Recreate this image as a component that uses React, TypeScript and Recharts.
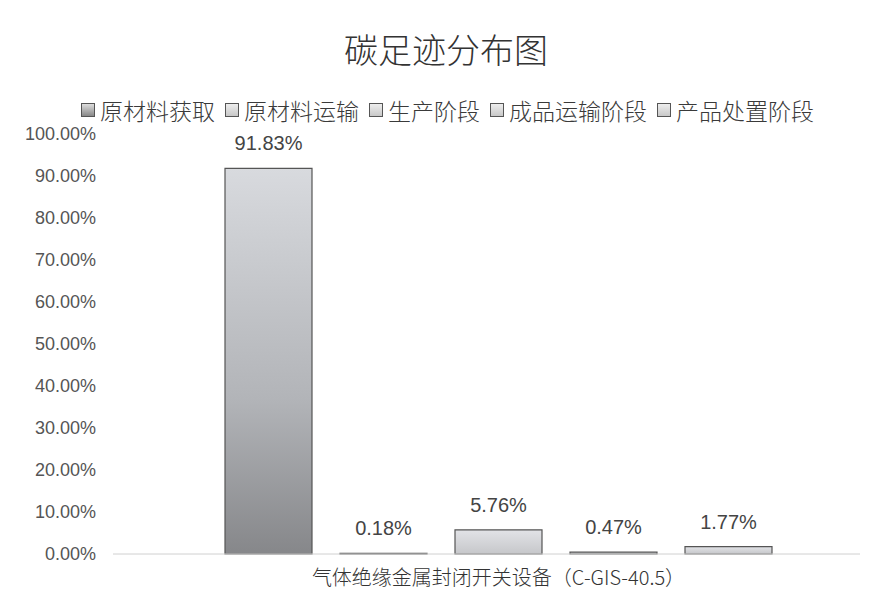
import React from 'react';
import { BarChart, Bar, XAxis, YAxis, LabelList } from 'recharts';

const categories = ['气体绝缘金属封闭开关设备（C-GIS-40.5）'];
const seriesNames = ['原材料获取', '原材料运输', '生产阶段', '成品运输阶段', '产品处置阶段'];
const seriesValues = [91.83, 0.18, 5.76, 0.47, 1.77];
const yTicks = [0, 10, 20, 30, 40, 50, 60, 70, 80, 90, 100];

const keys = ['s0', 's1', 's2', 's3', 's4'];
const data = categories.map((c) => {
  const row: any = { name: c };
  keys.forEach((k, i) => (row[k] = seriesValues[i]));
  return row;
});

const fmt = (v: number) => `${Number(v).toFixed(2)}%`;
const CJK = '"Noto Sans CJK SC", "Liberation Sans", sans-serif';
const NUM = '"Liberation Sans", Arial, sans-serif';

const fills = ['url(#g0)', 'url(#g1)', 'url(#g1)', 'url(#g1)', 'url(#g1)'];

function LegendContent() {
  return (
    <div
      style={{
        display: 'flex',
        justifyContent: 'center',
        alignItems: 'center',
        fontFamily: CJK,
        fontSize: 23,
        fontWeight: 300,
        color: '#3a3a3a',
        gap: 10,
        whiteSpace: 'nowrap',
      }}
    >
      {seriesNames.map((n, i) => (
        <div key={n} style={{ display: 'flex', alignItems: 'center' }}>
          <span
            style={{
              display: 'inline-block',
              width: 12,
              height: 12,
              border: '1px solid #555',
              background: i === 0 ? 'linear-gradient(#ddd, #888)' : 'linear-gradient(#eee, #c8c8c8)',
              marginRight: 5,
            }}
          />
          <span>{n}</span>
        </div>
      ))}
    </div>
  );
}

export default function App() {
  return (
    <div style={{ position: 'absolute', left: 0, top: 0, width: 877, height: 603, background: '#fff' }}>
      <div
        style={{
          position: 'absolute',
          top: 24,
          left: 0,
          width: 892,
          textAlign: 'center',
          fontFamily: CJK,
          fontSize: 34,
          fontWeight: 300,
          color: '#333',
        }}
      >
        碳足迹分布图
      </div>
      <div style={{ position: 'absolute', top: 93, left: 0, width: 895 }}>
        <LegendContent />
      </div>
      <BarChart
        width={877}
        height={603}
        data={data}
        margin={{ top: 134, right: 17, bottom: 0, left: 0 }}
        barSize={87}
        barGap={28}
      >
        <defs>
          <linearGradient id="g0" x1="0" y1="0" x2="0" y2="1">
            <stop offset="0%" stopColor="#d8dade" />
            <stop offset="60%" stopColor="#b2b4b8" />
            <stop offset="100%" stopColor="#86878a" />
          </linearGradient>
          <linearGradient id="g1" x1="0" y1="0" x2="0" y2="1">
            <stop offset="0%" stopColor="#e2e3e7" />
            <stop offset="100%" stopColor="#c6c7ca" />
          </linearGradient>
        </defs>
        <XAxis
          dataKey="name"
          tickLine={false}
          axisLine={{ stroke: '#d0d0d0' }}
          height={49}
          padding={{ left: 24, right: 0 }}
          tick={{ fontFamily: CJK, fontSize: 20, fontWeight: 300, fill: '#333' }}
          tickMargin={11}
        />
        <YAxis
          domain={[0, 100]}
          ticks={yTicks}
          tickFormatter={fmt}
          width={113}
          tickLine={false}
          axisLine={false}
          tickMargin={11}
          tick={{ fontFamily: NUM, fontSize: 18, fill: '#555' }}
          interval={0}
        />
        {keys.map((k, i) => (
          <Bar
            key={k}
            dataKey={k}
            name={seriesNames[i]}
            fill={fills[i]}
            stroke="#555"
            strokeWidth={1.2}
            isAnimationActive={false}
          >
            <LabelList
              dataKey={k}
              position="top"
              offset={18}
              formatter={(v: any) => fmt(v)}
              style={{ fontFamily: NUM, fontSize: 20, fill: '#444' }}
            />
          </Bar>
        ))}
      </BarChart>
    </div>
  );
}
